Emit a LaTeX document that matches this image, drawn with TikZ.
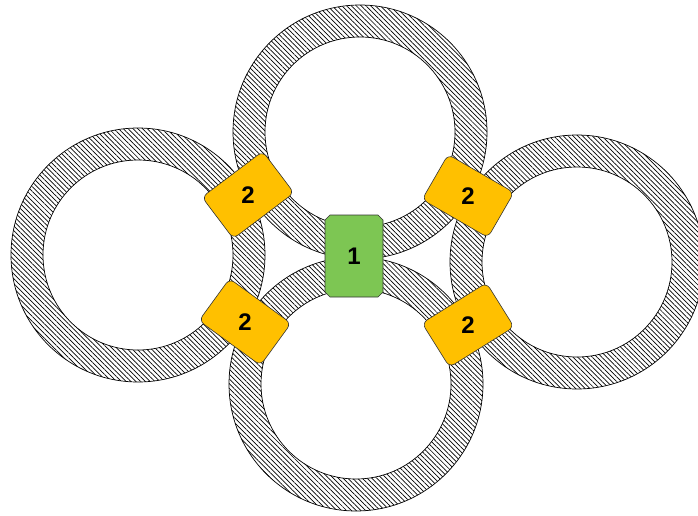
\documentclass[tikz,border=0pt]{standalone}
\usepackage{fontspec}
\setmainfont{Liberation Sans}
\usepackage{xcolor}
\usepackage{tikz}
\usetikzlibrary{shapes.misc, patterns.meta, positioning}
\definecolor{hubgreen}{HTML}{7DC653}
\definecolor{linkorange}{HTML}{FFC000}

\begin{document}
\begin{tikzpicture}[
    x=1pt, y=1pt,
    ring/.style={
        draw=black, line width=0.7pt, even odd rule,
        pattern={Lines[angle=-45, distance=3.4pt, line width=0.7pt]},
    },
    hub/.style={
        draw=black!80, fill=hubgreen, line width=0.6pt,
        chamfered rectangle, chamfered rectangle xsep=2.5pt,
        chamfered rectangle ysep=2.5pt,
        minimum width=58pt, minimum height=82pt, inner sep=0pt,
        font=\fontsize{24}{28}\selectfont\bfseries,
    },
    link/.style={
        draw=black!80, fill=linkorange, line width=0.6pt,
        rectangle, rounded corners=6pt,
        minimum width=76pt, minimum height=52pt, inner sep=0pt,
        rotate=#1,
    },
    num/.style={
        font=\fontsize{24}{28}\selectfont\bfseries,
        inner sep=0pt,
    },
]

\clip (0,0) rectangle (698,515);

% ring centres
\coordinate (top) at (360,383);
\coordinate (bottom) at (356,131);
\coordinate (left) at (138,260);
\coordinate (right) at (577,253);

% the four loops
\foreach \c in {top, bottom, left, right}{
    \draw[ring] (\c) circle (127pt) (\c) circle (95pt);
}

% centre block
\node[hub] (hub) at (354,259) {1};

% junction blocks
\node[link=37] (ul) at (248,320) {};
\node[link=-30] (ur) at (468,319) {};
\node[link=-36] (ll) at (245,193) {};
\node[link=32] (lr) at (468,190) {};

\node[num] (ul-num) at (ul) {2};
\node[num] (ur-num) at (ur) {2};
\node[num] (ll-num) at (ll) {2};
\node[num] (lr-num) at (lr) {2};

\end{tikzpicture}
\end{document}
